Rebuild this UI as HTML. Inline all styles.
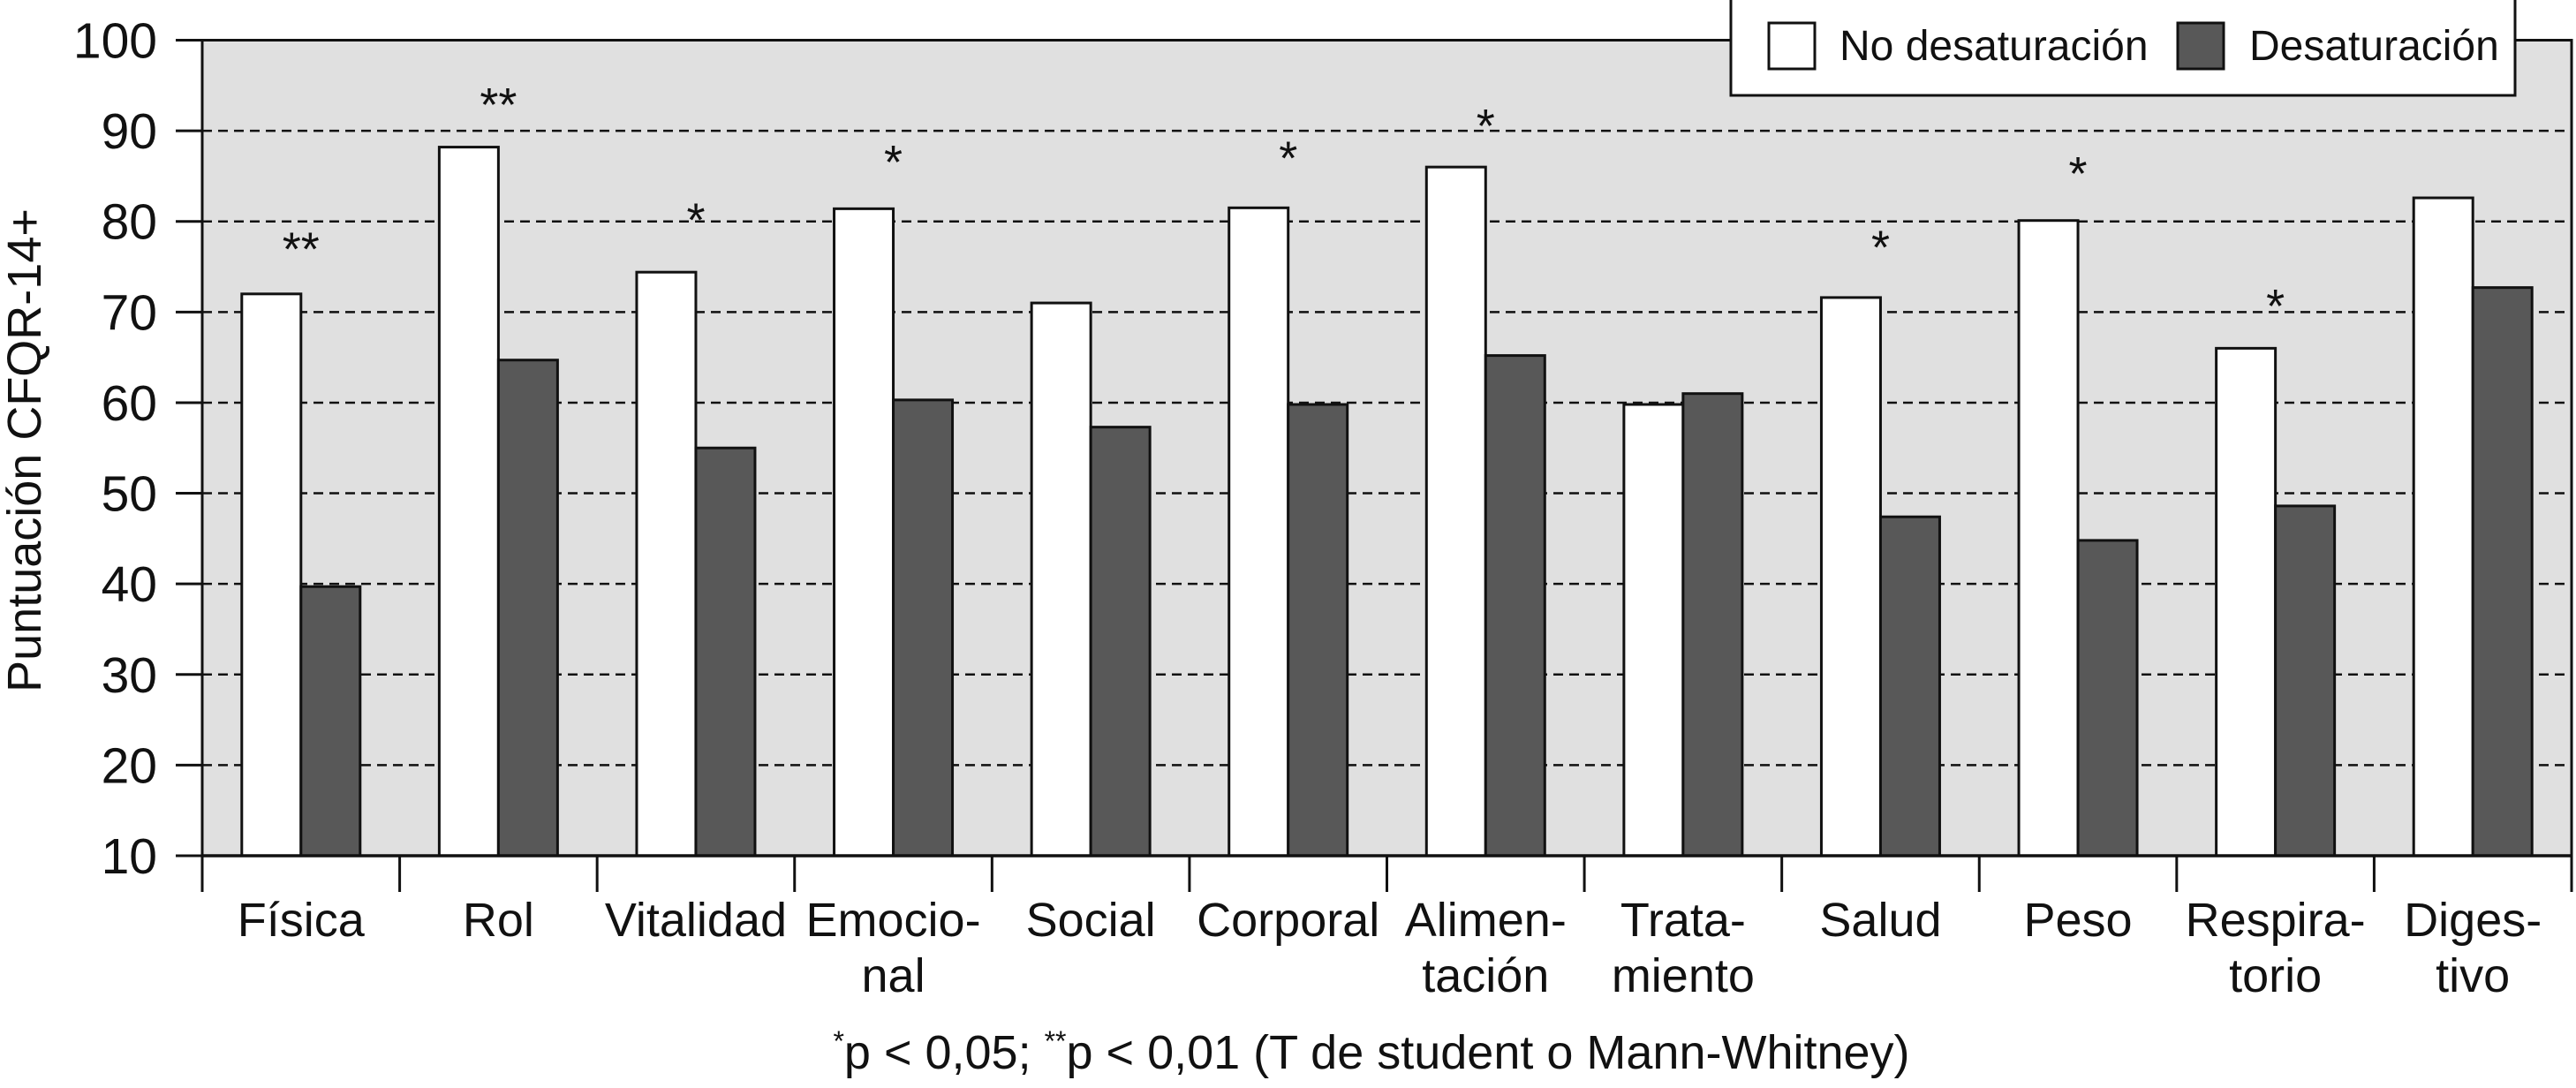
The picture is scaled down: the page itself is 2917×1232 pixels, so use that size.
<!DOCTYPE html>
<html><head><meta charset="utf-8"><style>
html,body{margin:0;padding:0;background:#fff;}
svg{display:block;font-family:"Liberation Sans",Arial,sans-serif;}
</style></head><body>
<svg id="chart" width="2917" height="1232" viewBox="0 0 2917 1232" xmlns="http://www.w3.org/2000/svg">
<rect x="229" y="45.5" width="2683" height="923.5" fill="#e0e0e0"/>
<g id="grid"></g>
<g id="bars"></g>
<g id="axes"></g>
<g id="legend">
  <rect x="1960" y="-3" width="888" height="111" fill="#fff" stroke="#111" stroke-width="3"/>
  <g>
    <rect x="2003" y="26" width="52" height="52" fill="#fff" stroke="#111" stroke-width="3"/>
    <text x="2083" y="68" font-size="48" fill="#111">No desaturación</text>
  </g>
  <g>
    <rect x="2466" y="26" width="52" height="52" fill="#585858" stroke="#111" stroke-width="3"/>
    <text x="2547" y="68" font-size="48" fill="#111">Desaturación</text>
  </g>
</g>
<text transform="translate(46,510) rotate(-90)" text-anchor="middle" font-size="54" fill="#111">Puntuación CFQR-14+</text>
<text x="1553" y="1210" text-anchor="middle" font-size="54" fill="#111"><tspan font-size="32" dy="-20">*</tspan><tspan dy="20">p &lt; 0,05; </tspan><tspan font-size="32" dy="-20">**</tspan><tspan dy="20">p &lt; 0,01 (T de student o Mann-Whitney)</tspan></text>
</svg>
<script>
const categories = [["Física"],["Rol"],["Vitalidad"],["Emocio-","nal"],["Social"],["Corporal"],["Alimen-","tación"],["Trata-","miento"],["Salud"],["Peso"],["Respira-","torio"],["Diges-","tivo"]];
const noDesaturacion = [72, 88.2, 74.4, 81.4, 71, 81.5, 86, 59.8, 71.6, 80.1, 66, 82.6];
const desaturacion = [39.7, 64.7, 55, 60.3, 57.3, 59.8, 65.2, 61, 47.4, 44.8, 48.6, 72.7];
const significance = ["**","**","*","*","","*","*","","*","*","*",""];
const starLevel = [77.6, 93.5, 80.8, 87.2, 0, 87.6, 91.2, 0, 77.8, 85.9, 71.3, 0];
const yTicks = [10,20,30,40,50,60,70,80,90,100];

const NS = "http://www.w3.org/2000/svg";
const L = 229, R = 2912, T = 45.5, B = 969;
const yMin = 10, yMax = 100;
const catW = (R - L) / categories.length;
const barW = 67;
function y(v){ return B - (v - yMin) / (yMax - yMin) * (B - T); }
function xc(i){ return L + catW * (i + 0.5); }
function mk(tag, attrs, parent){
  const e = document.createElementNS(NS, tag);
  for (const k in attrs) e.setAttribute(k, attrs[k]);
  parent.appendChild(e);
  return e;
}
const grid = document.getElementById('grid');
const bars = document.getElementById('bars');
const axes = document.getElementById('axes');

yTicks.forEach(t => {
  if (t > yMin && t < yMax) {
    const g = mk('line', {x1:L, x2:R, y1:y(t), y2:y(t), stroke:'#111', 'stroke-width':2.5, 'stroke-dasharray':'11 7'}, grid);
    
    
  }
  const tk = mk('line', {x1:199, x2:L, y1:y(t), y2:y(t), stroke:'#111', 'stroke-width':3}, axes);
  
  
  const lb = mk('text', {x:178, y:y(t) + 20, 'text-anchor':'end', 'font-size':57, fill:'#111'}, axes);
  lb.textContent = t;
  
  
});

categories.forEach((c, i) => {
  const cx = xc(i);
  const w = mk('rect', {x:cx - barW, y:y(noDesaturacion[i]), width:barW, height:B - y(noDesaturacion[i]), fill:'#fff', stroke:'#111', 'stroke-width':3}, bars);
  
  
  const d = mk('rect', {x:cx, y:y(desaturacion[i]), width:barW, height:B - y(desaturacion[i]), fill:'#585858', stroke:'#111', 'stroke-width':3}, bars);
  
  
  if (significance[i]) {
    const s = mk('text', {x:cx, y:y(starLevel[i]) + 25, 'text-anchor':'middle', 'font-size':54, fill:'#111'}, bars);
    s.textContent = significance[i];
    
    
  }
  c.forEach((line, j) => {
    const t = mk('text', {x:cx, y:1060 + j * 63, 'text-anchor':'middle', 'font-size':54, fill:'#111'}, axes);
    t.textContent = line;
    
    
  });
});
for (let i = 0; i <= categories.length; i++) {
  const tx = L + catW * i;
  const tk = mk('line', {x1:tx, x2:tx, y1:B, y2:1010, stroke:'#111', 'stroke-width':3}, axes);
  
  
}
const frame = mk('path', {d:`M${L},${B} L${L},${T} L${R},${T} L${R},${B}`, fill:'none', stroke:'#111', 'stroke-width':3}, axes);


const xa = mk('line', {x1:L, x2:R, y1:B, y2:B, stroke:'#111', 'stroke-width':3.5}, axes);


</script>
</body></html>
